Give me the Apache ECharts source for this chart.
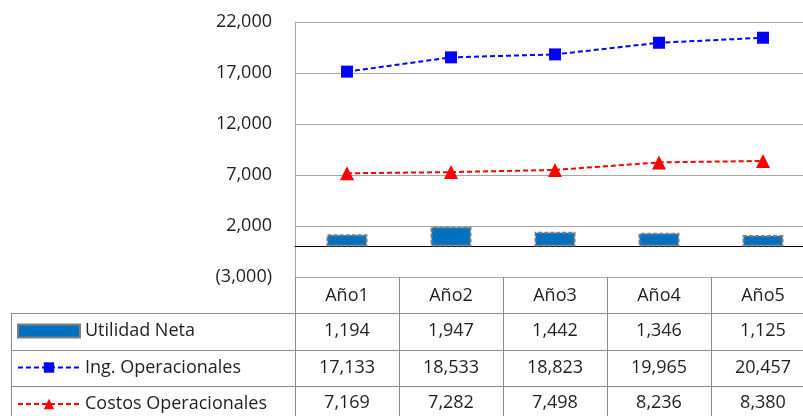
<!DOCTYPE html>
<html><head><meta charset="utf-8">
<script src="https://cdn.jsdelivr.net/npm/echarts@6/dist/echarts.min.js"></script>
<style>html,body{margin:0;padding:0;background:#fff;overflow:hidden}#c{width:815px;height:416px}</style>
</head><body><div id="c"></div>
<script>
var categories = ['Año1','Año2','Año3','Año4','Año5'];
var utilidadNeta = [1194, 1947, 1442, 1346, 1125];
var ingOperacionales = [17133, 18533, 18823, 19965, 20457];
var costosOperacionales = [7169, 7282, 7498, 8236, 8380];
var seriesNames = ['Utilidad Neta','Ing. Operacionales','Costos Operacionales'];
var yTicks = {min: -3000, max: 22000, interval: 5000};

function fmt(v){
  var s = Math.abs(v).toLocaleString('en-US');
  return v < 0 ? '(' + s + ')' : s;
}
var FONT = 'Open Sans';
var FS = 18;
var TXT = '#1f1f1f';
var GRID = '#a6a6a6';
var TABLE = '#8c8c8c';

var chart = echarts.init(document.getElementById('c'), null, {renderer:'canvas'});
var gridLeft = 295, gridTop = 22, gridBottom = 139, gridWidth = 520;
function rowAxis(labels, margin, ticks){
  return {
    type:'category', gridIndex:0, position:'bottom', data: labels,
    axisLine:{show:false},
    axisTick:{show: !!ticks, length: 140, lineStyle:{color: TABLE, width:1}},
    axisLabel:{show:true, margin: margin, verticalAlign:'middle', fontFamily: FONT, fontSize: FS, color: TXT, interval:0},
    splitLine:{show:false}
  };
}
var option = {
  animation:false,
  grid:{left: gridLeft, top: gridTop, bottom: gridBottom, width: gridWidth, containLabel:false},
  legend:{
    orient:'vertical', left: 17, top: 321, padding: 0, itemWidth: 62, itemHeight: 13, itemGap: 16.5,
    textStyle:{fontFamily: FONT, fontSize: FS, color: TXT, lineHeight: 20},
    data:[{name: seriesNames[0], icon:'rect'}, {name: seriesNames[1]}, {name: seriesNames[2]}]
  },
  xAxis:[
    {type:'category', data: categories, axisLine:{onZero:true, lineStyle:{color:'#000', width:1}},
     axisTick:{show:false}, axisLabel:{show:false}, splitLine:{show:false}},
    rowAxis(categories, 19, true),
    rowAxis(utilidadNeta.map(fmt), 54),
    rowAxis(ingOperacionales.map(fmt), 91),
    rowAxis(costosOperacionales.map(fmt), 126)
  ],
  yAxis:{
    type:'value', min: yTicks.min, max: yTicks.max, interval: yTicks.interval,
    axisLine:{show:true, lineStyle:{color: GRID}}, axisTick:{show:false},
    axisLabel:{formatter: fmt, margin: 23, fontFamily: FONT, fontSize: FS, color: TXT},
    splitLine:{show:true, lineStyle:{color: GRID, width:1}}
  },
  series:[
    {name: seriesNames[0], type:'bar', data: utilidadNeta, barWidth: 41, xAxisIndex:0,
     itemStyle:{color:'#0070C0', borderColor:'#7f7f7f', borderWidth:2, borderType:[4,2]}},
    {name: seriesNames[1], type:'line', data: ingOperacionales, xAxisIndex:0,
     symbol:'rect', symbolSize: 12, itemStyle:{color:'#0000ff'},
     lineStyle:{color:'#0000ff', width:2, type:[5,3]}},
    {name: seriesNames[2], type:'line', data: costosOperacionales, xAxisIndex:0,
     symbol:'triangle', symbolSize: 14, itemStyle:{color:'#ff0000'},
     lineStyle:{color:'#ff0000', width:2, type:[5,3]}}
  ],
  graphic:[
    {type:'line', shape:{x1:11, y1:313.5, x2:815, y2:313.5}, style:{stroke: TABLE, lineWidth:1}, silent:true},
    {type:'line', shape:{x1:11, y1:350.5, x2:815, y2:350.5}, style:{stroke: TABLE, lineWidth:1}, silent:true},
    {type:'line', shape:{x1:11, y1:386.5, x2:815, y2:386.5}, style:{stroke: TABLE, lineWidth:1}, silent:true},
    {type:'line', shape:{x1:11.5, y1:313, x2:11.5, y2:416}, style:{stroke: TABLE, lineWidth:1}, silent:true}
  ]
};
chart.setOption(option);
</script></body></html>
